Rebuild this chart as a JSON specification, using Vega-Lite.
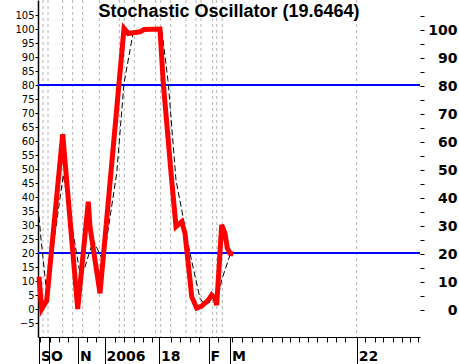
{
  "$schema": "https://vega.github.io/schema/vega-lite/v6.json",
  "autosize": {"type": "none"},
  "padding": {"left": 38, "top": 0, "right": 39, "bottom": 27},
  "width": 382,
  "height": 337,
  "background": "white",
  "title": {"text": "Stochastic Oscillator (19.6464)", "font": "Liberation Sans", "fontSize": 18, "fontWeight": "bold", "color": "black", "anchor": "middle", "frame": "group", "offset": -35, "baseline": "alphabetic"},
  "config": {"view": {"stroke": null}},
  "datasets": {
    "k": [
      {"t": 1, "v": 11.5}, {"t": 3.7, "v": 0}, {"t": 8.7, "v": 3}, {"t": 24.7, "v": 62.4}, {"t": 39.7, "v": 0},
      {"t": 50.3, "v": 38.3}, {"t": 52, "v": 29.4}, {"t": 62, "v": 5.6}, {"t": 86, "v": 100.2}, {"t": 90.3, "v": 98.4},
      {"t": 102, "v": 99}, {"t": 106, "v": 99.8}, {"t": 122, "v": 100}, {"t": 125.3, "v": 80.6}, {"t": 133.7, "v": 46},
      {"t": 138, "v": 29.4}, {"t": 143.7, "v": 31.2}, {"t": 147, "v": 27}, {"t": 152, "v": 10.4}, {"t": 153.7, "v": 4.4},
      {"t": 158.7, "v": 0.3}, {"t": 163.7, "v": 1}, {"t": 170.3, "v": 3.2}, {"t": 173.7, "v": 5}, {"t": 177, "v": 3.8},
      {"t": 178.7, "v": 1.4}, {"t": 183.7, "v": 30}, {"t": 187, "v": 27}, {"t": 189.3, "v": 21.7}, {"t": 192, "v": 19.9},
      {"t": 195.3, "v": 19.6}
    ],
    "d": [
      {"t": 1, "v": 33}, {"t": 3, "v": 25}, {"t": 8.7, "v": 5.7}, {"t": 25.3, "v": 47.9}, {"t": 43, "v": 10.5},
      {"t": 55.3, "v": 24.6}, {"t": 65.3, "v": 16.9}, {"t": 78.7, "v": 48.5}, {"t": 86, "v": 80.6}, {"t": 95.3, "v": 99},
      {"t": 112, "v": 100}, {"t": 123.7, "v": 100}, {"t": 130.3, "v": 80.6}, {"t": 138, "v": 46}, {"t": 143.7, "v": 35.4},
      {"t": 152, "v": 19.9}, {"t": 162, "v": 3.8}, {"t": 167, "v": 1.4}, {"t": 175.3, "v": 3.2}, {"t": 180.3, "v": 4.4},
      {"t": 183.7, "v": 10.4}, {"t": 188, "v": 15}, {"t": 192, "v": 19.3}
    ],
    "grid": [
      {"t": 5}, {"t": 10}, {"t": 24.7}, {"t": 34.7}, {"t": 44.7}, {"t": 61.3}, {"t": 81.3}, {"t": 86.3}, {"t": 96.3},
      {"t": 117.7}, {"t": 122.7}, {"t": 132.7}, {"t": 148}, {"t": 158}, {"t": 163}, {"t": 174.7}, {"t": 178.7},
      {"t": 184.3}, {"t": 318.7}
    ],
    "levels": [{"v": 20}, {"v": 80}]
  },
  "resolve": {"axis": {"x": "independent", "y": "independent"}},
  "layer": [
    {
      "data": {"name": "grid"},
      "mark": {"type": "rule", "color": "#b4b4b4", "strokeWidth": 1, "strokeDash": [3, 3]},
      "encoding": {
        "x": {"field": "t", "type": "quantitative",
          "scale": {"domain": [0, 382], "nice": false, "zero": false},
          "axis": {"orient": "bottom", "title": null, "grid": false, "labels": false, "domain": true, "domainColor": "black", "domainWidth": 1,
            "ticks": true, "tickColor": "black", "tickSize": 5, "tickWidth": 1,
            "values": [2, 12, 21, 30, 49, 58, 77, 86, 96, 105, 114, 133, 142, 152, 161, 180, 194, 203.7, 213.7, 223.7, 233.7, 243.7, 252, 261.3, 270.3, 279.3, 288.7, 297.7, 307, 327, 337, 345.3, 355.3, 363.7, 372, 380.3]}
        }
      }
    },
    {
      "data": {"name": "levels"},
      "mark": {"type": "rule", "color": "#0000ff", "strokeWidth": 2},
      "encoding": {
        "y": {"field": "v", "type": "quantitative",
          "scale": {"domain": [-10, 110.36], "nice": false, "zero": false},
          "axis": {"orient": "left", "title": null, "grid": false, "values": [-5, 0, 5, 10, 15, 20, 25, 30, 35, 40, 45, 50, 55, 60, 65, 70, 75, 80, 85, 90, 95, 100, 105],
            "labelFont": "DejaVu Sans", "labelFontSize": 10, "labelColor": "black", "labelPadding": 1, "tickSize": 3, "tickColor": "black",
            "domain": true, "domainColor": "black", "domainWidth": 1.5}
        }
      }
    },
    {
      "data": {"name": "d"},
      "mark": {"type": "line", "color": "black", "strokeWidth": 1, "strokeDash": [6, 3]},
      "encoding": {
        "x": {"field": "t", "type": "quantitative",
          "axis": {"orient": "bottom", "title": null, "grid": false, "domain": false,
            "values": [1, 11, 40, 66.5, 121, 170.5, 192, 318.7],
            "labelExpr": "datum.value == 1 ? 'S' : datum.value == 11 ? 'O' : datum.value == 40 ? 'N' : datum.value == 66.5 ? '2006' : datum.value == 121 ? '18' : datum.value == 170.5 ? 'F' : datum.value == 192 ? 'M' : '22'",
            "ticks": true, "tickColor": "black", "tickSize": 27, "tickWidth": 1,
            "labelAlign": "left", "labelBaseline": "top", "labelPadding": -15, "labelOffset": 1.5,
            "labelFont": "DejaVu Sans", "labelFontSize": 14, "labelFontWeight": "bold", "labelColor": "black",
            "labelOverlap": false, "labelBound": false, "labelFlush": false}
        },
        "y": {"field": "v", "type": "quantitative",
          "axis": {"orient": "right", "title": null, "grid": false, "domain": false,
            "values": [0, 5, 10, 15, 20, 25, 30, 35, 40, 45, 50, 55, 60, 65, 70, 75, 80, 85, 90, 95, 100, 105],
            "labelExpr": "datum.value % 10 == 0 ? datum.label : ''",
            "tickSize": 4, "tickColor": "black", "tickWidth": 1, "tickOffset": 1,
            "labelAlign": "right", "labelPadding": 33, "labelFont": "DejaVu Sans", "labelFontSize": 14, "labelFontWeight": "bold", "labelColor": "black"}
        }
      }
    },
    {
      "data": {"name": "k"},
      "mark": {"type": "line", "color": "#ff0000", "strokeWidth": 5},
      "encoding": {
        "x": {"field": "t", "type": "quantitative", "axis": null},
        "y": {"field": "v", "type": "quantitative", "axis": null}
      }
    }
  ]
}
